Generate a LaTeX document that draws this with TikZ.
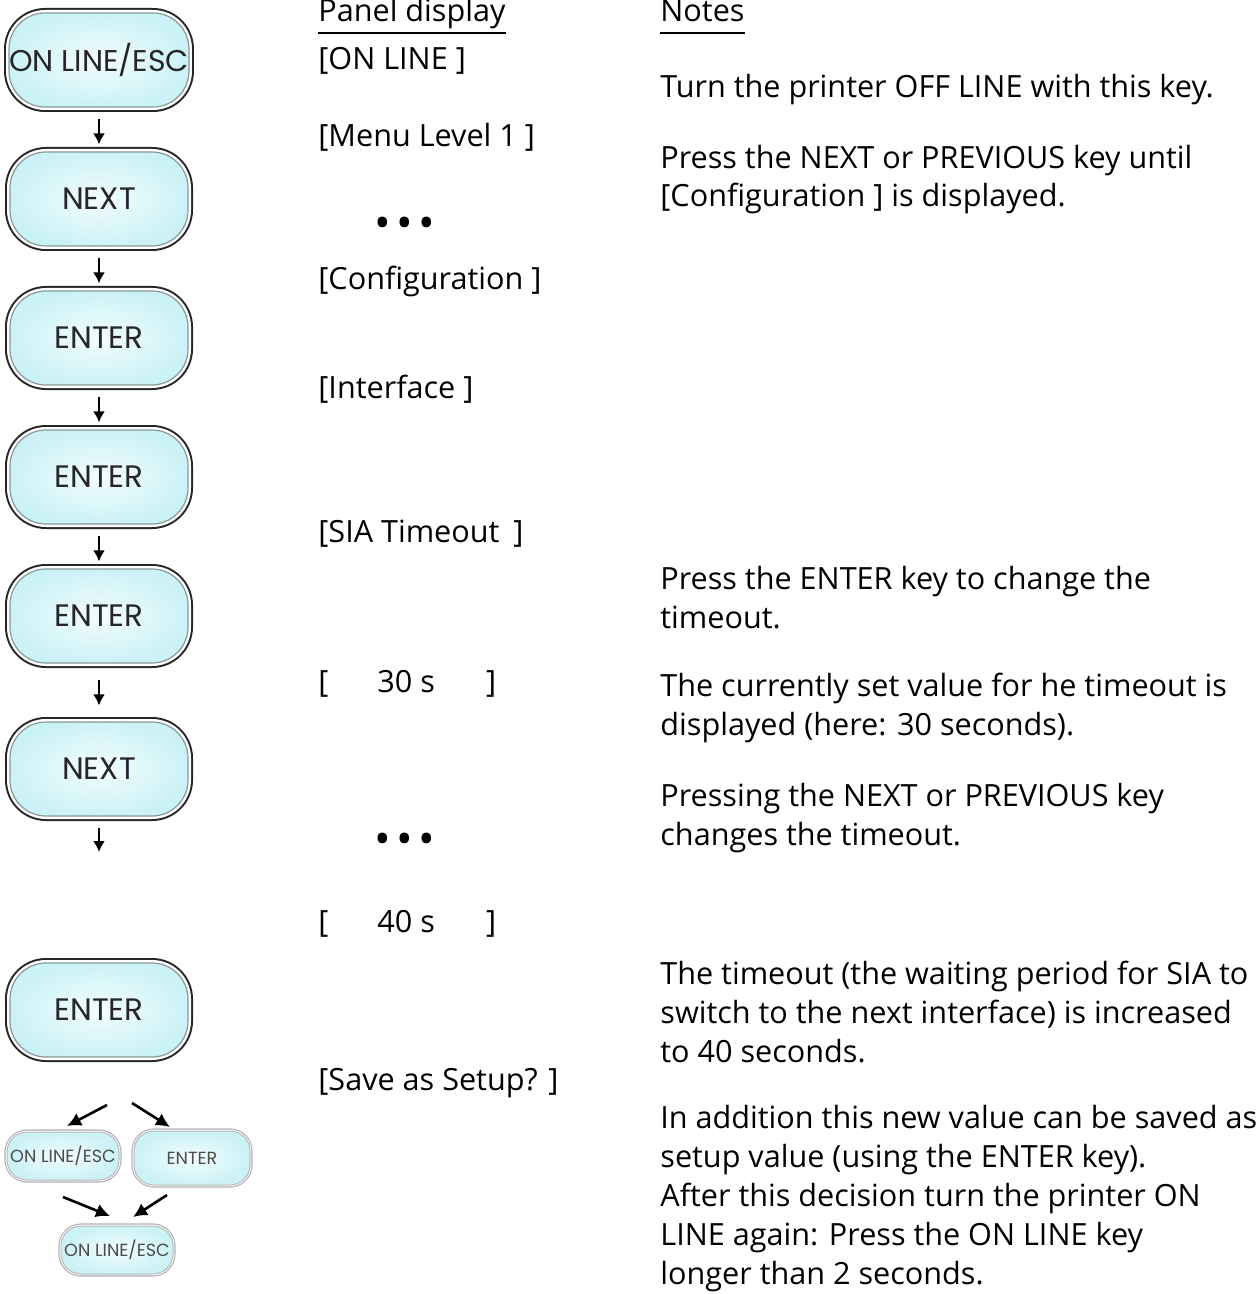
\documentclass[tikz,border=0pt]{standalone}
\usepackage{fontspec}
\setmainfont{Open Sans}
\newfontfamily\keyfont{Poppins}
\usetikzlibrary{arrows.meta, positioning}
\definecolor{keycyan}{HTML}{CBF2F7}
\definecolor{keylight}{HTML}{F3FCFD}
\definecolor{keyrim}{HTML}{8A9799}
\tikzstyle{key}=[rectangle, rounded corners=18pt, minimum width=89pt, minimum height=47pt, inner sep=0pt, inner color=keylight, outer color=keycyan, draw=keyrim, line width=0.6pt, preaction={draw=black!85, line width=5pt}, preaction={draw=white, line width=3pt}, font=\keyfont\fontsize{15.5}{15.5}\selectfont, text=black!85]
\tikzstyle{minikey}=[rectangle, rounded corners=10pt, minimum width=56pt, minimum height=24pt, inner sep=0pt, inner color=keylight, outer color=keycyan, draw=gray!55, line width=0.5pt, preaction={draw=gray!60, line width=2.6pt}, preaction={draw=white, line width=1.4pt}, font=\keyfont\fontsize{8.8}{8.8}\selectfont, text=black!70]
\tikzstyle{panel}=[anchor=base west, inner sep=0pt, font=\fontsize{15.3}{19.4}\selectfont]
\tikzstyle{note}=[anchor=base west, inner sep=0pt, align=left, font=\fontsize{15.3}{19.4}\selectfont]
\tikzstyle{arr}=[-{Latex[length=5.5pt,width=6pt]}, line width=1.3pt]
\tikzstyle{bigarr}=[-{Latex[length=7pt,width=7pt]}, line width=1.3pt]
\newcommand{\bulletrow}{\makebox[11pt]{\textbullet}\makebox[11pt]{\textbullet}\makebox[11pt]{\textbullet}}

\begin{document}
\begin{tikzpicture}[x=0.5pt, y=-0.5pt]
  \useasboundingbox (0,0) rectangle (1258,1294);
  % keys
  \node[key, font=\keyfont\fontsize{15}{15}\selectfont] (esc) at (99,60) {ON LINE/ESC};
  \node[key] (next) at (99,199) {NEXT};
  \node[key] (enter) at (99,338) {ENTER};
  \node[key] (enterb) at (99,477) {ENTER};
  \node[key] (enterc) at (99,616) {ENTER};
  \node[key] (nextb) at (99,769) {NEXT};
  \node[key] (save) at (99,1010) {ENTER};
  \node[minikey] (escno) at (63,1156) {ON LINE/ESC};
  \node[minikey, minimum width=58pt, minimum height=27pt] (enteryes) at (192,1158) {ENTER};
  \node[minikey] (escend) at (117,1250) {ON LINE/ESC};
  \coordinate (nextend) at (99,852);
  \coordinate (splitl) at (107,1105);
  \coordinate (splitlend) at (67,1126);
  \coordinate (splitr) at (132,1103);
  \coordinate (splitrend) at (170,1127);
  \coordinate (joinl) at (63,1197);
  \coordinate (joinlend) at (110,1216);
  \coordinate (joinr) at (167,1195);
  \coordinate (joinrend) at (133,1217);

  \draw[arr, shorten <=5.5pt, shorten >=3.5pt] (esc) -- (next);
  \draw[arr, shorten <=5.5pt, shorten >=3.5pt] (next) -- (enter);
  \draw[arr, shorten <=5.5pt, shorten >=3.5pt] (enter) -- (enterb);
  \draw[arr, shorten <=5.5pt, shorten >=3.5pt] (enterb) -- (enterc);
  \draw[arr, shorten <=8pt, shorten >=8pt] (enterc) -- (nextb);
  \draw[arr, shorten <=5.5pt] (nextb) -- (nextend);
  \draw[bigarr] (splitl) -- (splitlend);
  \draw[bigarr] (splitr) -- (splitrend);
  \draw[bigarr] (joinl) -- (joinlend);
  \draw[bigarr] (joinr) -- (joinrend);

  % panel display
  \node[panel] (hpanel) at (318,22) {Panel display};
  \node[panel] (online) at (318,70) {[ON LINE ]};
  \node[panel] (menu) at (318,147) {[Menu Level 1 ]};
  \node[inner sep=0pt, font=\fontsize{22}{22}\selectfont] (dotsa) at (405,228) {\bulletrow};
  \node[panel] (config) at (318,290) {[Configuration ]};
  \node[panel] (iface) at (318,398) {[Interface ]};
  \node[panel] (sia) at (318,542) {[SIA Timeout\hspace{7pt}]};
  \node[panel] (thirty) at (318,692) {[\hspace{24.5pt}30 s\hspace{25.5pt}]};
  \node[inner sep=0pt, font=\fontsize{22}{22}\selectfont] (dotsb) at (405,844) {\bulletrow};
  \node[panel] (forty) at (318,932) {[\hspace{24.5pt}40 s\hspace{25.5pt}]};
  \node[panel] (setup) at (318,1090) {[Save as Setup? ]};

  % notes
  \node[panel] (hnotes) at (660,22) {Notes};
  \node[note] (n1) at (660,98) {Turn the printer OFF LINE with this key.};
  \node[note] (n2) at (660,207) {Press the NEXT or PREVIOUS key until\\{}[Configuration ] is displayed.};
  \node[note] (n3) at (660,628) {Press the ENTER key to change the\\timeout.};
  \node[note] (n4) at (660,735) {The currently set value for he timeout is\\displayed (here: 30 seconds).};
  \node[note] (n5) at (660,845) {Pressing the NEXT or PREVIOUS key\\changes the timeout.};
  \node[note] (n6) at (660,1062) {The timeout (the waiting period for SIA to\\switch to the next interface) is increased\\to 40 seconds.};
  \node[note] (n7) at (660,1284) {In addition this new value can be saved as\\setup value (using the ENTER key).\\After this decision turn the printer ON\\LINE again: Press the ON LINE key\\longer than 2 seconds.};

  \draw[line width=0.7pt] ([yshift=-5.5pt]hpanel.base west) -- ([yshift=-5.5pt]hpanel.base east);
  \draw[line width=0.7pt] ([yshift=-5.5pt]hnotes.base west) -- ([yshift=-5.5pt]hnotes.base east);
\end{tikzpicture}
\end{document}
